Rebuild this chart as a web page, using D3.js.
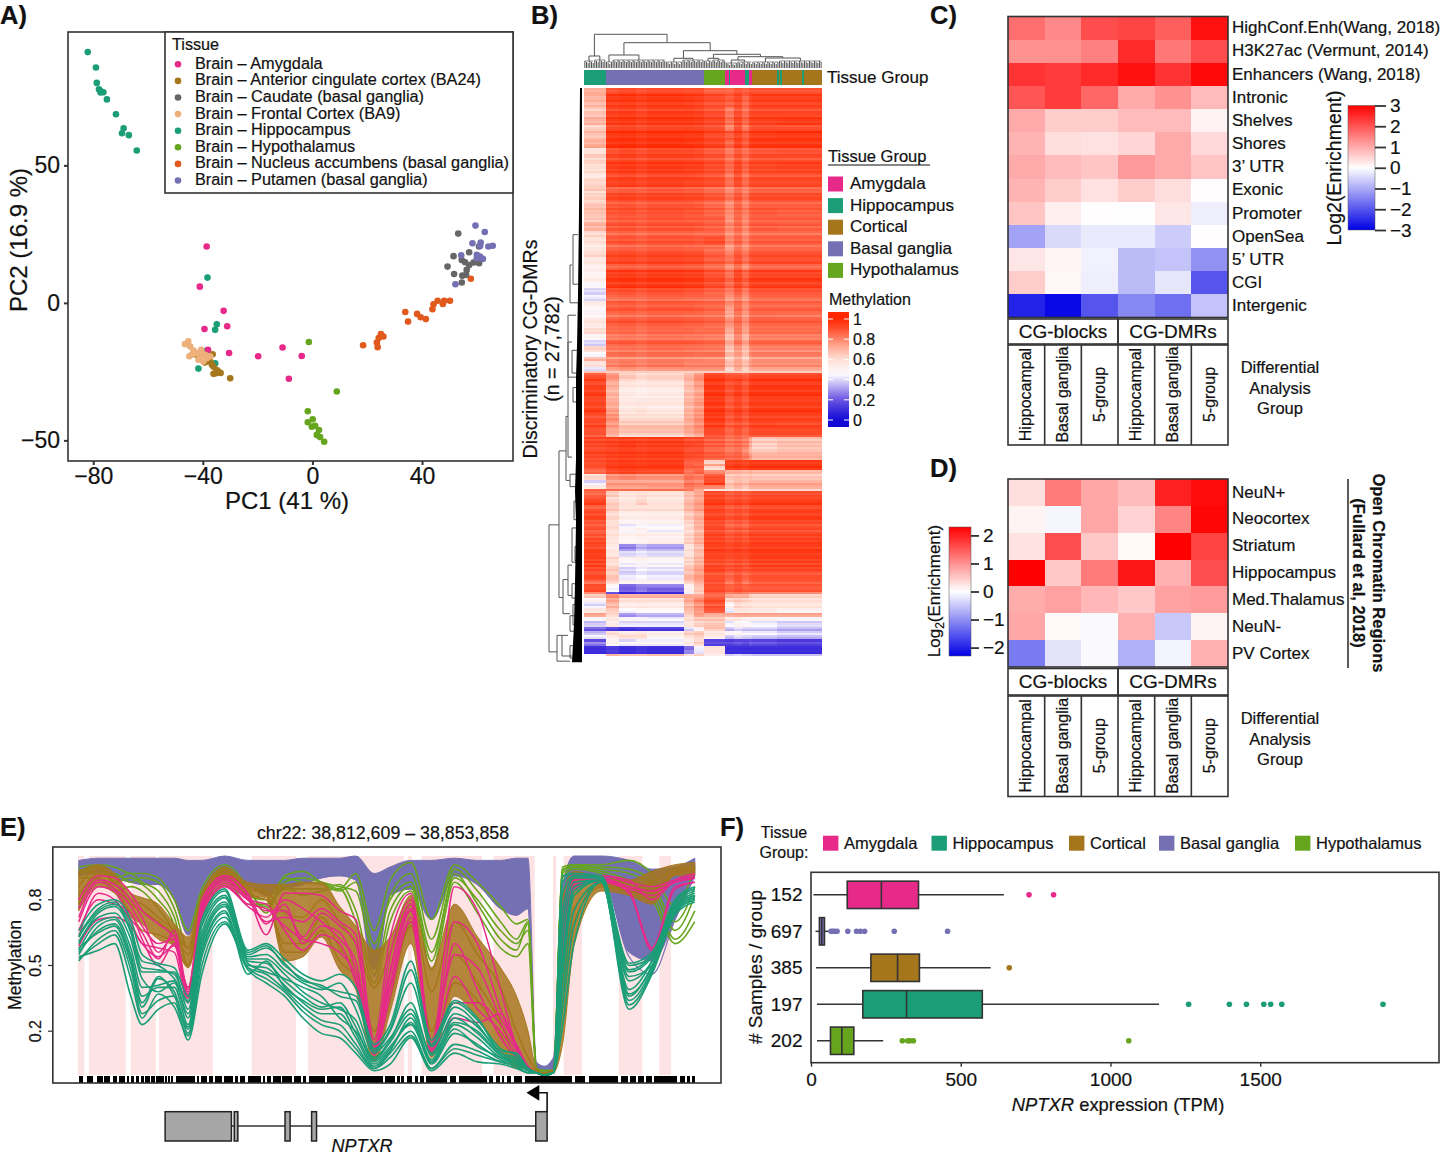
<!DOCTYPE html>
<html>
<head>
<meta charset="utf-8">
<script src="https://cdn.jsdelivr.net/npm/d3@7"></script>
<style>
	html, body { margin: 0; padding: 0; background: #fff; }
	svg { display: block; }
	text { font-family: "Liberation Sans", Arial, sans-serif; fill: #111; stroke: #111; stroke-width: 0.2; }
</style>
</head>
<body>
<script>
// ---- colours
var colAmy = "#E7298A", colHip = "#1B9E77", colCor = "#A6761D", colBas = "#7570B3", colHyp = "#66A61E";

// ---- panel A: PCA
var pcaNames = ["Brain – Amygdala", "Brain – Anterior cingulate cortex (BA24)", "Brain – Caudate (basal ganglia)", "Brain – Frontal Cortex (BA9)", "Brain – Hippocampus", "Brain – Hypothalamus", "Brain – Nucleus accumbens (basal ganglia)", "Brain – Putamen (basal ganglia)"];
var pcaColors = [colAmy, colCor, "#666666", "#EDB07A", colHip, colHyp, "#E2591E", colBas];
var pcaAmygdala = [[-38.6,20.5],[-41.1,5.9],[-32.4,-2.9],[-31.1,-8.5],[-39.4,-9.5],[-38.1,-17.1],[-30.4,-18.2],[-19.8,-19.4],[-10.9,-16.2],[-3.9,-19.3],[-8.6,-27.6]];
var pcaBA24 = [[-30,-27.4],[-33.5,-25.5],[-34.3,-25],[-35.2,-25.6],[-36.1,-25.8],[-36.1,-23.2],[-37.3,-21.3],[-39.2,-21.7],[-36.4,-18.7],[-34.9,-24.4],[-36.7,-22.5],[-42.2,-18.9]];
var pcaCaudate = [[53.2,25.2],[51.5,17],[49.3,13.2],[51.7,10.5],[54.5,7.4],[54.7,9.9],[56.1,10.2],[56.3,12],[57.2,13.8],[54.5,15.6],[55.7,14.8],[57.2,18.4],[58.8,14.7],[60.8,14.4],[60.8,20.5]];
var pcaBA9 = [[-46.5,-15],[-45.3,-14],[-44.6,-15.9],[-43.4,-17.3],[-44.9,-19.4],[-42.2,-18.3],[-40.6,-17.1],[-41,-19.5],[-39.2,-18.9],[-41.6,-20.7],[-39.8,-21.3],[-38.6,-20.1],[-42.8,-18.1],[-40.4,-18.3],[-37.3,-19.5],[-44,-18.9]];
var pcaHippocampus = [[-82,91.2],[-79,85.6],[-78.7,80],[-77.5,77.2],[-77.3,76.5],[-76.3,76.6],[-77.9,77.7],[-75,74],[-71.7,68.6],[-68.9,63.5],[-69.5,61.7],[-67,61],[-64.1,55.4],[-38.3,9.2],[-34.9,-7.8],[-35.5,-9.8],[-41.6,-23.9],[-35.5,-22],[-38.5,-17.3]];
var pcaHypothalamus = [[-1.3,-14.2],[8.9,-32.2],[-1.7,-39.4],[0.1,-42.3],[-1.7,-43.4],[-0.2,-45],[1,-44.7],[2.4,-46.2],[1.6,-48],[2.8,-48.8],[4.3,-50.5]];
var pcaAccumbens = [[18.5,-15.4],[23.8,-16.1],[23.5,-14.4],[24.2,-12.8],[25,-11.3],[25.9,-12.2],[33.9,-3.3],[34.9,-6.8],[38.2,-4],[39.5,-5.2],[41.4,-5.9],[43.8,-2.3],[44.2,-0.5],[45.7,0.8],[47.6,-0.4],[48.1,0.8],[50.2,0.8],[57.8,8.8]];
var pcaPutamen = [[59.5,28.1],[62.9,25.8],[58.4,21.7],[61.4,21.9],[61.2,20.7],[64.2,20.5],[65.8,20.8],[54.3,17.3],[60,17.5],[61.2,16.8],[62.2,16],[52.2,6.8],[60,16.2]];

// ---- panel B: heatmap, columns in samples and rows in hundreds of DMRs
var heatColSizes = [13,8,10,7,22,6,6,13,5,5,4,2,15,27];
var annotGroups = ["Hip","Bas","Hyp","Amy","Hip","Amy","Hip","Amy","Cor","Hip","Cor","Hip","Cor","Hip","Cor"];
var annotSizes = [13,59,13,2,1,9,2,2,15,1,1,1,12,1,11];
var heatRowSizes = [3,6,5,4,3,4,4,3,4,5,3,4,2,5,3,4,3,4,3,4,2,4,3,3,4,3,2,3,3,3,3,3,4,3,3,3,3,2,2,3,2,1,
	3,4,5,4,4,3,3,3,2,
	3,3,2,3,2,1,2,2,3,2,2,1,
	3,4,3,3,3,2,2,3,3,3,3,2,3,3,3,2,2,2,1,2,2,3,2,2,2,3,2,2,2,1,2,2,2,1];
var heatRows = [
	[72,90,92,90,92,91,91,87,86,90,88,90,90,90],
	[70,95,96,94,96,95,94,91,88,92,86,92,94,94],
	[66,93,94,92,94,94,93,90,82,90,84,91,92,92],
	[70,95,96,94,96,96,95,92,84,92,86,93,94,95],
	[64,92,93,91,93,93,92,90,80,90,82,90,91,91],
	[67,96,97,95,97,96,96,92,88,93,88,94,95,96],
	[72,97,98,96,98,97,96,93,86,94,88,95,96,96],
	[58,90,92,90,92,92,91,88,82,88,84,88,89,90],
	[64,92,93,91,93,93,92,90,84,90,85,90,91,91],
	[60,94,95,93,95,94,94,91,85,92,86,92,92,93],
	[56,91,92,90,92,92,91,89,82,90,83,89,90,90],
	[62,93,94,92,94,93,93,91,84,91,85,91,92,92],
	[66,86,87,86,88,87,87,84,78,84,80,85,86,86],
	[62,91,92,90,92,91,91,88,82,88,82,89,90,90],
	[66,88,89,87,89,89,88,85,78,86,80,86,87,87],
	[68,90,91,89,91,90,90,87,80,87,82,88,89,88],
	[64,86,87,86,88,87,87,86,76,84,78,85,86,86],
	[70,89,90,88,90,90,89,87,80,86,80,87,88,87],
	[62,86,87,85,87,87,86,86,78,84,78,84,85,85],
	[58,88,89,87,89,89,88,90,80,86,80,86,87,87],
	[54,84,85,84,86,85,85,84,74,82,76,83,84,84],
	[60,90,91,89,91,90,90,86,80,87,82,88,89,89],
	[55,92,93,91,93,92,92,88,84,90,84,90,91,91],
	[52,87,88,87,89,88,88,85,78,85,78,85,86,86],
	[50,94,95,93,95,94,94,90,84,92,86,92,93,93],
	[52,96,97,95,97,96,96,92,86,93,88,94,95,95],
	[44,95,96,94,96,95,95,91,85,92,86,93,94,94],
	[40,90,91,89,91,90,90,87,82,88,82,89,90,90],
	[42,84,85,84,86,85,85,84,76,82,76,84,85,85],
	[52,86,87,85,87,87,86,85,78,84,78,84,85,85],
	[46,88,89,87,89,89,88,86,74,85,78,86,87,87],
	[50,84,85,84,86,85,85,84,74,83,76,84,85,84],
	[56,88,89,87,89,88,88,86,78,85,78,86,87,87],
	[60,84,85,83,85,85,84,84,72,82,74,83,84,84],
	[50,82,83,82,84,83,83,82,68,80,70,81,82,82],
	[38,86,87,85,87,87,86,85,72,82,74,84,85,85],
	[62,82,83,82,84,83,83,82,66,76,68,78,80,80],
	[44,84,85,83,85,85,84,84,70,76,68,80,82,82],
	[70,78,79,78,80,79,79,78,64,72,64,74,76,76],
	[58,80,82,80,82,80,80,80,68,74,68,76,78,78],
	[42,76,78,76,78,78,78,78,62,72,64,72,74,74],
	[64,62,62,62,62,62,62,62,62,62,62,62,62,62],
	[90,78,66,62,64,70,78,94,90,90,88,92,93,93],
	[92,72,58,56,58,68,76,95,90,92,88,94,95,95],
	[94,70,54,52,54,68,74,96,90,94,90,96,96,96],
	[92,72,55,56,56,70,76,95,88,92,88,94,94,94],
	[94,74,56,58,55,70,76,96,90,94,90,95,96,96],
	[90,78,60,60,60,72,78,95,88,92,88,93,93,93],
	[92,76,66,66,66,72,78,94,88,90,88,92,93,92],
	[90,74,68,68,68,74,78,92,86,90,86,91,92,92],
	[88,70,62,62,62,68,72,90,85,88,85,90,90,90],
	[93,94,95,94,95,92,92,88,84,86,82,74,66,68],
	[90,92,94,92,93,91,90,86,82,84,80,70,62,66],
	[94,95,96,95,96,92,92,88,84,86,80,72,68,70],
	[91,93,94,93,94,91,90,87,85,86,82,76,70,70],
	[92,95,96,95,96,88,88,64,94,95,93,96,96,96],
	[90,93,94,93,94,86,84,74,92,94,92,95,95,95],
	[88,94,95,94,95,86,86,60,93,95,93,96,96,96],
	[84,90,92,90,90,82,86,78,70,70,68,70,68,68],
	[62,78,80,78,78,84,82,90,66,68,66,68,66,66],
	[42,76,76,76,76,84,82,95,68,72,70,74,74,74],
	[55,74,74,74,76,82,80,80,66,70,66,72,72,72],
	[84,82,82,82,82,80,70,56,56,58,56,58,58,58],
	[86,65,58,60,58,68,74,92,88,90,88,90,91,91],
	[92,62,56,62,56,68,74,94,90,92,90,93,94,94],
	[88,66,60,60,60,70,76,92,88,90,88,91,92,92],
	[93,62,54,54,54,66,72,93,90,92,90,94,95,95],
	[90,60,50,50,52,64,72,92,88,90,88,92,93,93],
	[87,60,42,45,44,60,70,90,84,86,84,88,89,89],
	[90,60,48,52,46,62,70,92,88,90,88,92,92,92],
	[88,58,50,52,50,62,70,92,88,90,88,92,92,92],
	[92,56,48,50,52,64,72,93,90,92,90,93,94,94],
	[92,54,28,35,32,58,68,94,92,94,92,95,95,95],
	[94,56,40,42,40,58,68,93,92,93,92,94,95,95],
	[93,62,50,52,50,62,70,92,90,92,90,93,94,94],
	[94,60,46,48,46,64,72,92,90,92,90,93,94,94],
	[90,64,38,42,40,66,74,92,88,90,88,90,91,91],
	[92,66,42,44,42,70,76,90,86,90,86,89,90,90],
	[84,62,50,50,50,64,72,90,82,88,82,86,88,88],
	[92,48,24,28,28,52,68,92,88,90,88,90,90,90],
	[90,42,20,24,20,50,64,90,86,88,86,87,87,87],
	[80,20,8,10,10,44,64,88,82,84,82,80,80,80],
	[64,78,70,70,70,72,72,84,72,70,70,64,62,62],
	[50,74,60,60,60,74,82,92,64,66,64,62,60,60],
	[42,70,54,56,54,70,78,90,50,62,60,60,58,58],
	[55,64,44,46,46,68,76,88,42,56,56,54,54,50],
	[72,60,28,32,32,62,74,70,70,72,72,72,72,72],
	[46,56,46,46,44,60,66,66,54,56,50,52,50,46],
	[38,55,42,42,42,58,64,66,44,50,48,46,44,40],
	[20,14,10,12,12,38,48,64,34,38,36,36,36,32],
	[36,60,54,56,52,64,66,56,46,48,44,44,44,40],
	[44,55,62,62,50,60,64,54,38,42,40,40,38,36],
	[16,48,38,42,42,50,60,14,12,14,14,16,14,12],
	[26,50,44,44,44,54,62,16,16,18,16,20,18,16],
	[10,14,10,12,10,24,44,58,10,10,10,10,10,10],
	[8,12,8,10,8,26,40,56,8,8,8,8,8,8],
	[50,74,70,70,72,62,68,56,42,44,42,42,40,40],
	[38,66,66,62,64,58,62,44,34,36,34,36,34,34]
];
// fine horizontal banding read by eye, in percent, one entry per hundred DMRs (repeats over the rows)
var rowBanding = [0,-2,1,3,-1,0,2,-3,1,0,-4,2,1,-1,3,0,-2,2,-3,0,1,4,-1,-2,2,0,-3,1,3,-2,0,-1,2,1,-4,0,3,-1,1,-2,2,0,-3,3,1,-1,0,2,-2,1,-4,2,0,3,-1,-3,1,0,2,-2];
var bLegendNames = ["Amygdala", "Hippocampus", "Cortical", "Basal ganglia", "Hypothalamus"];
var bLegendCodes = ["Amy", "Hip", "Cor", "Bas", "Hyp"];
var methTicks = [0, 0.2, 0.4, 0.6, 0.8, 1];

// sample tree above the heatmap: h = merge height, n = samples in a leaf cluster
var colTree = {h: 33.7, children: [
	{h: 12, children: [{h: 7, n: 6}, {h: 8, n: 7}]},
	{h: 25.3, children: [
		{h: 13, children: [{h: 6, n: 4}, {h: 8, n: 32}]},
		{h: 17.3, children: [
			{h: 9.7, children: [{h: 6, n: 10}, {h: 8, n: 13}]},
			{h: 13.7, children: [
				{h: 9.7, children: [{h: 7, n: 5}, {h: 8, n: 8}]},
				{h: 11.3, children: [
					{h: 8, children: [{h: 5, n: 7}, {h: 6, n: 9}]},
					{h: 10, children: [{h: 6, n: 16}, {h: 7, n: 26}]}
				]}
			]}
		]}
	]}
]};
// DMR tree at the left: [merge height, rank top, rank bottom, child height top, child height bottom]
var rowBrackets = [
	[33,211.5,273,23,25],[23,175.7,246.7,16,19],[16,159,190,14,12],[14,123,178.7,10,10],
	[19,238,254.5,14,12],[14,231,245.7,10,10],[10,213,229.6,6,6],[25,265,277.5,20,12],
	[20,265,275,14,10],[12,85.7,104,10,4],[9,71,95,4,4],[14,110,140,6,6],[10,127,138,4,4],
	[12,187,193,5,5],[12,255.5,263,6,6],[9,250,260,5,5],[12,270,276,6,6],[8,200,209,5,5],
	[9,145,152,5,5],[7,222,229,5,5],[10,240,247,6,5]
];
var combRanks = [0, 60, 100, 125, 140, 180, 195, 210, 240, 260, 278];
var combWidths = [2, 3, 4, 5, 6, 6, 7, 6, 7, 8, 10];

// ---- panel C
var cRows = ["HighConf.Enh(Wang, 2018)", "H3K27ac (Vermunt, 2014)", "Enhancers (Wang, 2018)", "Intronic", "Shelves", "Shores", "3’ UTR", "Exonic", "Promoter", "OpenSea", "5’ UTR", "CGI", "Intergenic"];
var cValues = [
	[1.7,1.4,2.1,2.2,1.9,2.8],
	[1.3,1.3,1.5,2.5,1.6,2.1],
	[2.4,2.3,2.5,2.8,2.4,2.9],
	[2.0,2.3,1.8,1.0,1.3,0.8],
	[1.0,0.6,0.6,0.8,0.8,0.15],
	[0.9,0.4,0.35,0.5,1.0,0.45],
	[1.0,0.8,0.7,1.2,1.0,0.7],
	[0.9,0.6,0.35,0.6,0.4,0.02],
	[0.7,0.2,0.02,0.01,0.3,-0.2],
	[-1.1,-0.45,-0.25,-0.25,-0.6,0.02],
	[0.3,0.12,-0.15,-0.8,-0.7,-1.3],
	[0.6,0.1,-0.2,-0.8,-0.3,-2.0],
	[-2.6,-2.9,-2.0,-1.4,-1.7,-0.7]
];
var analysisGroups = ["CG-blocks", "CG-DMRs"];
var analysisCols = ["Hippocampal", "Basal ganglia", "5-group"];

// ---- panel D
var dRows = ["NeuN+", "Neocortex", "Striatum", "Hippocampus", "Med.Thalamus", "NeuN-", "PV Cortex"];
var dValues = [
	[0.3,1.2,0.8,0.6,2.0,2.2],
	[0.1,-0.08,0.8,0.4,1.1,2.25],
	[0.25,1.6,0.5,0.05,2.3,1.7],
	[2.3,0.5,1.2,2.1,0.7,1.6],
	[0.75,0.85,0.65,0.5,0.85,0.9],
	[0.8,0.05,-0.05,0.7,-0.5,0.1],
	[-1.2,-0.25,-0.05,-0.7,-0.1,0.7]
];

// ---- panel E: methylation in percent at eKnots (kb from region start)
var eKnots = [0,1.32,2.40,3.48,4.24,5.32,6.40,7.32,8.24,9.78,11.32,12.55,13.78,15.01,16.24,17.47,18.55,19.78,20.85,22.24,23.62,25.16,26.70,28.24,29.31,30.08,30.64,31.16,31.78,32.39,33.16,35.0,36.85,38.39,39.93,41.25];
var basalTop = [98,99,99,99,99,99,99,98,98,100,98,98,
	98,99,99,99,100,92,95,98,98,99,98,98,
	99,99,6,4,8,86,100,100,98,94,95,99];
var basalBottom = [91,92,90,88,87,87,80,64,81,89,87,82,
	85,87,90,91,89,48,82,85,71,91,87,76,
	73,76,2,1,2,40,87,91,56,52,71,91];
var basalLow = [91,92,90,88,87,87,80,64,81,89,87,82,
	85,87,90,91,89,45,82,85,71,91,87,76,
	73,76,2,1,2,40,87,91,54,46,71,91];
var corticalTop = [93,96,92,83,81,78,69,63,83,95,88,87,
	87,88,88,77,68,57,63,82,49,78,63,49,
	36,20,3,1,3,82,93,90,89,93,96,97];
var corticalBottom = [75,86,83,72,69,62,59,49,72,86,82,81,
	52,54,63,48,39,6,29,60,8,36,26,11,
	3,3,1,0,1,14,59,84,82,78,91,91];
var corticalLines = [
	[82,92,88,78,75,70,64,55,80,93,86,84,74,72,80,70,60,40,56,78,38,70,55,40,20,8,2,0,2,62,88,88,85,88,94,95],
	[78,90,85,74,66,64,60,50,74,89,82,80,60,60,72,58,48,20,40,68,20,55,42,24,8,4,1,0,1,30,70,86,84,80,92,93],
	[86,94,90,80,78,72,66,58,78,92,85,83,56,56,66,52,44,12,34,70,12,42,34,18,6,3,1,0,1,40,76,87,86,84,93,94]
];
var hypoLines = [
	[95,96,95,92,92,90,80,66,85,96,86,74,91,93,88,85,92,66,89,97,71,96,88,77,69,71,3,2,2,95,96,96,98,92,77,95],
	[92,94,88,90,87,80,68,36,77,95,80,77,85,85,85,87,75,46,75,86,52,92,78,62,57,69,2,1,1,92,95,93,89,83,62,75],
	[93,95,90,92,88,84,72,50,80,94,84,76,88,90,88,86,84,56,82,92,62,94,84,70,62,70,3,2,2,94,95,95,94,88,70,86],
	[94,92,92,88,90,88,76,58,83,92,82,80,90,88,87,84,88,60,80,88,56,90,80,66,60,66,3,1,2,93,96,94,92,86,66,82],
	[90,90,84,86,84,76,64,40,74,90,78,78,86,82,84,85,70,42,70,84,48,88,74,58,54,60,2,1,1,90,94,92,86,80,60,70]
];
var amyLines = [
	[80,91,90,83,75,69,62,40,78,91,82,64,83,83,82,75,71,16,63,83,14,86,75,39,13,3,1,0,1,75,92,91,89,80,89,92],
	[59,71,72,68,60,54,59,36,77,88,80,78,66,57,64,60,42,10,36,72,11,60,39,17,8,3,1,0,1,52,86,89,83,57,85,88],
	[72,88,85,77,68,60,62,37,75,90,81,75,75,63,74,68,60,13,48,78,14,33,33,23,11,3,1,0,1,63,89,90,86,84,88,90],
	[63,83,80,71,65,53,66,39,80,91,83,69,78,60,68,65,48,14,42,75,16,55,49,26,14,4,1,0,1,57,88,88,85,82,88,90],
	[76,89,87,80,72,56,64,38,76,89,80,70,72,70,76,70,64,12,55,80,13,70,60,30,12,3,1,0,1,70,91,91,88,86,89,91],
	[66,80,78,74,62,50,60,35,74,87,78,76,68,62,60,56,45,9,40,70,10,45,30,20,9,3,1,0,1,48,85,89,84,58,86,88],
	[70,86,84,70,60,58,56,33,72,86,77,72,80,76,70,62,52,11,46,76,12,26,24,28,13,3,1,0,1,58,87,90,86,84,88,90]
];
var hipLines = [
	[66,78,80,71,55,51,49,36,71,85,57,60,53,46,43,46,40,14,23,52,16,34,26,11,10,3,1,0,1,91,92,91,51,56,80,86],
	[60,74,77,65,47,47,47,30,65,81,54,55,48,42,39,42,30,10,17,30,10,28,22,10,7,3,1,0,1,75,91,90,47,54,78,84],
	[55,68,71,55,36,40,40,23,59,77,52,51,43,36,31,33,22,6,13,23,6,23,17,8,6,2,1,0,1,52,86,89,39,52,76,82],
	[52,62,66,48,28,34,36,19,54,72,49,46,39,31,25,23,14,3,10,20,3,14,11,6,4,1,1,0,1,37,75,88,34,48,74,80],
	[54,57,60,36,23,30,33,16,46,69,48,42,36,26,19,17,10,2,5,17,2,10,6,5,3,1,1,0,1,22,60,88,30,46,73,79],
	[63,75,78,68,49,48,46,33,68,82,55,58,51,43,41,36,34,11,20,42,13,31,23,10,8,3,1,0,1,83,91,90,48,55,79,85],
	[58,65,68,51,31,44,38,21,56,74,50,49,41,33,28,28,17,4,11,26,5,19,14,7,5,2,1,0,1,45,82,89,36,50,75,81],
	[64,76,79,66,52,50,44,34,69,84,56,59,50,44,40,38,36,12,21,48,14,33,25,12,9,3,1,0,1,88,92,90,50,54,79,85],
	[57,70,72,58,40,41,43,26,61,78,53,53,46,38,33,30,25,7,15,28,7,26,19,9,6,2,1,0,1,60,88,89,43,52,77,83],
	[53,60,64,44,26,37,31,18,50,70,49,44,38,29,23,20,12,3,8,18,3,12,9,6,4,1,1,0,1,30,68,88,32,47,74,80],
	[61,72,74,62,44,38,42,28,63,79,51,47,44,40,36,26,20,8,16,33,9,24,20,9,6,2,1,0,1,68,90,90,45,50,77,82],
	[56,66,69,53,33,45,36,22,57,75,46,52,40,34,30,31,19,5,12,24,6,21,13,8,5,2,1,0,1,48,84,89,37,49,75,81]
];
var dmrRegions = [[-0.06,0.37],[0.68,3.14],[3.47,5.16],[5.37,8.97],[11.57,14.55],[15.34,21.79],[22.03,22.31],[22.96,27.0],[27.77,30.53],[31.75,31.98],[32.47,33.69],[36.15,37.74],[38.88,39.65]];
var cpgRuns = [[0,0.26],[0.53,0.66],[0.70,0.97],[1.20,1.60],[1.69,2.09],[2.27,2.58],[2.71,3.09],[3.20,3.38],[3.47,3.70],[3.83,4.05],[4.19,4.37],[4.45,4.77],[4.86,5.08],[5.17,5.70],[5.79,5.88],[5.97,6.11],[6.17,6.33],[6.51,7.78],[7.89,8.07],[8.16,8.61],[8.70,9.01],[9.14,9.59],[9.72,10.30],[10.44,10.68],[10.79,11.13],[11.35,12.18],[12.36,12.49],[12.62,12.89],[13.03,13.52],[13.61,14.25],[14.41,14.86],[15.04,15.21],[15.39,16.49],[16.64,17.83],[17.98,18.16],[18.27,20.39],[20.51,21.18],[21.31,21.49],[21.58,21.80],[21.98,22.34],[22.52,22.74],[22.85,23.10],[23.23,24.64],[24.86,25.24],[25.47,27.32],[27.47,27.76],[27.92,28.21],[28.32,28.50],[28.66,28.95],[29.17,29.71],[29.88,33.01],[33.23,33.90],[34.17,36.13],[36.31,36.80],[36.92,37.30],[37.43,37.88],[37.97,38.37],[38.50,40.04],[40.27,40.60],[40.71,40.93],[41.05,41.25]];
var geneExons = [[5.78,10.22],[10.41,10.65],[13.81,14.15],[15.59,15.92],[30.6,31.36]];
var eTicks = [0.2, 0.5, 0.8];

// ---- panel F: five number summary per group, outliers apart
var fCounts = ["152", "697", "385", "197", "202"];
var fColors = [colAmy, colBas, colCor, colHip, colHyp];
var fLow = [8, 15, 17, 20, 20];
var fQ1 = [121, 28, 200, 173, 65];
var fMedian = [235, 36, 289, 319, 103];
var fQ3 = [359, 45, 362, 572, 143];
var fHigh = [644, 67, 600, 1162, 241];
var fOutliers = [
	[728, 810],
	[67, 73, 79, 87, 123, 152, 165, 179, 278, 456],
	[662],
	[1261, 1397, 1454, 1512, 1535, 1572, 1910],
	[305, 323, 331, 342, 1061]
];
var fTicks = [0, 500, 1000, 1500];

var svg = d3.select("body").append("svg").attr("width", 1440).attr("height", 1156);
var ink = "#333";

function label(parent, x, y, txt, size, opts) {
	opts = opts || {};
	var t = parent.append("text").attr("x", x).attr("y", y).attr("font-size", size).text(txt);
	if (opts.anchor) t.attr("text-anchor", opts.anchor);
	if (opts.weight) t.attr("font-weight", opts.weight);
	if (opts.style) t.attr("font-style", opts.style);
	if (opts.rotate) t.attr("transform", "rotate(" + opts.rotate + "," + x + "," + y + ")");
	return t;
}

function frame(x0, y0, x1, y1, w) {
	svg.append("rect").attr("x", x0).attr("y", y0).attr("width", x1 - x0).attr("height", y1 - y0).
	attr("fill", "none").attr("stroke", ink).attr("stroke-width", w || 1.6);
}

// panel letters
[["A)", 0, 24], ["B)", 531, 24], ["C)", 930, 24], ["D)", 930, 477], ["E)", 0, 836], ["F)", 720, 836]].forEach(function (d) {
	label(svg, d[1], d[2], d[0], 25.5, {weight: "bold"});
});

// ---------------- A
var ax = d3.scaleLinear().domain([-89.2, 73.2]).range([68, 513]);
var ay = d3.scaleLinear().domain([-57.5, 98.5]).range([461, 32]);
var pcaSets = [pcaAmygdala, pcaBA24, pcaCaudate, pcaBA9, pcaHippocampus, pcaHypothalamus, pcaAccumbens, pcaPutamen];
var pcaDrawOrder = [4, 0, 1, 3, 5, 6, 2, 7];
pcaDrawOrder.forEach(function (k) {
	svg.append("g").selectAll("circle").data(pcaSets[k]).enter().append("circle").
	attr("cx", function (d) {return ax(d[0]);}).
	attr("cy", function (d) {return ay(d[1]);}).
	attr("r", 3.3).
	attr("fill", pcaColors[k]);
});
frame(68, 32, 513, 461);
var axisA = svg.append("g").attr("transform", "translate(0,461)").call(d3.axisBottom(ax).tickValues([-80, -40, 0, 40]).tickSize(4).tickPadding(3));
var axisB = svg.append("g").attr("transform", "translate(68,0)").call(d3.axisLeft(ay).tickValues([-50, 0, 50]).tickSize(4).tickPadding(4));
[axisA, axisB].forEach(function (g) {
	g.select(".domain").remove();
	g.selectAll("line").attr("stroke", ink).attr("stroke-width", 2);
	g.selectAll("text").attr("font-size", 23);
});
label(svg, 287, 509, "PC1 (41 %)", 24, {anchor: "middle"});
label(svg, 27, 240, "PC2 (16.9 %)", 24, {anchor: "middle", rotate: -90});
svg.append("rect").attr("x", 165).attr("y", 32).attr("width", 348).attr("height", 161).attr("fill", "#fff").attr("stroke", ink).attr("stroke-width", 1.6);
label(svg, 172, 50, "Tissue", 16.2);
pcaNames.forEach(function (n, i) {
	var y = 63.3 + i * 16.6;
	svg.append("circle").attr("cx", 178).attr("cy", y + 1).attr("r", 3.3).attr("fill", pcaColors[i]);
	label(svg, 195, y + 5.5, n, 16.3);
});

// ---------------- B
var methColor = d3.scaleLinear().domain([0, 0.2, 0.45, 0.6, 0.75, 0.9, 1]).
range(["#1208d6", "#6a54e2", "#fdfbff", "#ffe0d6", "#ffa088", "#ff5030", "#ff2800"]);
var sampleTotal = d3.sum(heatColSizes);
var hx = d3.scaleLinear().domain([0, sampleTotal]).range([584, 822]);
var hy = d3.scaleLinear().domain([0, d3.sum(heatRowSizes)]).range([88, 656]);
var rowTop = d3.cumsum([0].concat(heatRowSizes));
var colLeft = d3.cumsum([0].concat(heatColSizes));
var heatG = svg.append("g").attr("shape-rendering", "crispEdges");
heatRows.forEach(function (row, r) {
	d3.range(heatRowSizes[r]).forEach(function (u) {
		var rank = rowTop[r] + u;
		var band = rowBanding[rank % rowBanding.length];
		heatG.append("g").selectAll("rect").data(row).enter().append("rect").
		attr("x", function (d, c) {return hx(colLeft[c]);}).
		attr("y", hy(rank)).
		attr("width", function (d, c) {return hx(colLeft[c + 1]) - hx(colLeft[c]);}).
		attr("height", hy(rank + 1) - hy(rank)).
		attr("fill", function (d) {return methColor(Math.min(100, d + band) / 100);});
	});
});

// annotation strip
var groupColor = {Amy: colAmy, Hip: colHip, Cor: colCor, Bas: colBas, Hyp: colHyp};
var annotLeft = d3.cumsum([0].concat(annotSizes));
svg.append("g").attr("shape-rendering", "crispEdges").selectAll("rect").data(annotGroups).enter().append("rect").
attr("x", function (d, i) {return hx(annotLeft[i]);}).
attr("y", 70).
attr("width", function (d, i) {return hx(annotLeft[i + 1]) - hx(annotLeft[i]);}).
attr("height", 15).
attr("fill", function (d) {return groupColor[d];});
label(svg, 827, 83, "Tissue Group", 17);

// sample tree
var th = d3.scaleLinear().domain([0, 34]).range([68, 34]);
var treeRoot = d3.hierarchy(colTree);
var leafCursor = 0;
var treeG = svg.append("g").attr("fill", "none").attr("stroke", "#555").attr("stroke-width", 1);
treeRoot.eachAfter(function (node) {
	if (!node.children) {
		var start = leafCursor;
		d3.range(node.data.n).forEach(function (i) {
			var sx = hx(start + i + 0.5);
			treeG.append("line").attr("x1", sx).attr("x2", sx).attr("y1", th(0)).attr("y2", th(node.data.h - (i % 3)));
		});
		treeG.append("line").attr("x1", hx(start + 0.5)).attr("x2", hx(start + node.data.n - 0.5)).attr("y1", th(node.data.h)).attr("y2", th(node.data.h)).attr("stroke-width", 0.7);
		leafCursor += node.data.n;
		node.xPos = hx(start + node.data.n / 2);
	} else {
		var a = node.children[0], b = node.children[1];
		node.xPos = (a.xPos + b.xPos) / 2;
		var h = th(node.data.h);
		treeG.append("path").attr("d", "M" + a.xPos + "," + th(a.data.h) + "V" + h + "H" + b.xPos + "V" + th(b.data.h));
	}
});

// DMR tree
var rh = d3.scaleLinear().domain([0, 34]).range([582, 548]);
var rowTreeG = svg.append("g").attr("fill", "none").attr("stroke", "#555").attr("stroke-width", 1);
rowBrackets.forEach(function (d) {
	rowTreeG.append("path").attr("d", "M" + rh(d[3]) + "," + hy(d[1]) + "H" + rh(d[0]) + "V" + hy(d[2]) + "H" + rh(d[4]));
});
var combArea = d3.area().y(function (d) {return hy(d);}).x0(rh(0)).
x1(function (d, i) {return rh(combWidths[i]);});
svg.append("path").datum(combRanks).attr("d", combArea).attr("fill", "#000");

label(svg, 537, 349, "Discriminatory CG-DMRs", 19.5, {anchor: "middle", rotate: -90});
label(svg, 559, 349, "(n = 27,782)", 19.5, {anchor: "middle", rotate: -90});

// tissue legend
label(svg, 828, 162, "Tissue Group", 16.5);
svg.append("line").attr("x1", 828).attr("x2", 930).attr("y1", 165).attr("y2", 165).attr("stroke", "#111").attr("stroke-width", 1.2);
bLegendNames.forEach(function (n, i) {
	svg.append("rect").attr("x", 828).attr("y", 176.5 + i * 21.6).attr("width", 15).attr("height", 15).attr("fill", groupColor[bLegendCodes[i]]);
	label(svg, 850, 189 + i * 21.6, n, 17);
});

// methylation bar
label(svg, 829, 305, "Methylation", 16);
var methY = d3.scaleLinear().domain([0, 1]).range([420, 319]);
var defs = svg.append("defs");
function vGradient(id, scale, lo, hi) {
	var g = defs.append("linearGradient").attr("id", id).attr("x1", 0).attr("x2", 0).attr("y1", 1).attr("y2", 0);
	d3.range(0, 1.001, 0.05).forEach(function (t) {
		var v = Math.max(scale.domain()[0], Math.min(scale.domain()[scale.domain().length - 1], lo + t * (hi - lo)));
		g.append("stop").attr("offset", t).attr("stop-color", scale(v));
	});
}
vGradient("gMeth", methColor, -0.07, 1.07);
svg.append("rect").attr("x", 828).attr("y", 312).attr("width", 21).attr("height", 115).attr("fill", "url(#gMeth)");
methTicks.forEach(function (v) {
	svg.append("line").attr("x1", 828).attr("x2", 833).attr("y1", methY(v)).attr("y2", methY(v)).attr("stroke", "#fff");
	svg.append("line").attr("x1", 844).attr("x2", 849).attr("y1", methY(v)).attr("y2", methY(v)).attr("stroke", "#fff");
	label(svg, 853, methY(v) + 6, String(v), 16);
});

// ---------------- C and D share the same layout
function enrichmentPanel(rows, values, top, bottom, colorMax, rowFont, boxTop, boxMid, boxBottom, textY) {
	var x = d3.scaleBand().domain(d3.range(6)).range([1008, 1228]);
	var y = d3.scaleBand().domain(rows).range([top, bottom]);
	var col = d3.scaleLinear().domain([-colorMax, 0, colorMax]).range(["#0000e6", "#ffffff", "#ff0000"]);
	var g = svg.append("g").attr("shape-rendering", "crispEdges");
	rows.forEach(function (name, r) {
		g.append("g").selectAll("rect").data(values[r]).enter().append("rect").
		attr("x", function (d, c) {return x(c);}).
		attr("y", y(name)).
		attr("width", x.bandwidth()).
		attr("height", y.bandwidth()).
		attr("fill", function (d) {return col(d);});
		label(svg, 1232, y(name) + y.bandwidth() / 2 + 5.2, name, rowFont);
	});
	frame(1008, top, 1228, bottom);
	// group boxes under the heatmap
	frame(1008, boxTop, 1118, boxMid);
	frame(1118, boxTop, 1228, boxMid);
	frame(1008, boxMid + 1, 1228, boxBottom);
	analysisGroups.forEach(function (n, i) {
		label(svg, 1063 + i * 110, boxTop + (boxMid - boxTop) / 2 + 6.5, n, 19, {anchor: "middle"});
	});
	d3.range(6).forEach(function (c) {
		if (c > 0) svg.append("line").attr("x1", x(c)).attr("x2", x(c)).attr("y1", boxMid + 1).attr("y2", boxBottom).attr("stroke", ink).attr("stroke-width", 1.6);
		var lx = x(c) + x.bandwidth() / 2 + 5;
		label(svg, lx, (boxMid + boxBottom) / 2, analysisCols[c % 3], 16, {anchor: "middle", rotate: -90});
	});
	["Differential", "Analysis", "Group"].forEach(function (n, i) {
		label(svg, 1280, textY + i * 20.5, n, 16.5, {anchor: "middle"});
	});
	return col;
}

function colorBar(id, col, x0, x1, scale, lo, hi, ticks, tickEnd, font) {
	vGradient(id, col, lo, hi);
	svg.append("rect").attr("x", x0).attr("y", scale(hi)).attr("width", x1 - x0).attr("height", scale(lo) - scale(hi)).attr("fill", "url(#" + id + ")").attr("stroke", "#555").attr("stroke-width", 0.5);
	var g = svg.append("g").attr("transform", "translate(" + x1 + ",0)").
	call(d3.axisRight(scale).tickValues(ticks).tickFormat(d3.format("d")).tickSize(tickEnd - x1).tickPadding(4));
	g.select(".domain").remove();
	g.selectAll("line").attr("stroke", ink).attr("stroke-width", 1.8);
	g.selectAll("text").attr("font-size", font);
}

var cCol = enrichmentPanel(cRows, cValues, 16.5, 317.5, 3, 17, 319, 344, 445, 373);
colorBar("gC", cCol, 1348, 1375, d3.scaleLinear().domain([-3, 3]).range([230, 105.5]), -3, 3, [-3, -2, -1, 0, 1, 2, 3], 1386, 19);
label(svg, 1341, 168, "Log2(Enrichment)", 19.5, {anchor: "middle", rotate: -90});

var dCol = enrichmentPanel(dRows, dValues, 479, 667, 2.3, 17, 668.5, 695, 796.5, 724);
colorBar("gD", dCol, 949, 971, d3.scaleLinear().domain([-2.3, 2.3]).range([656, 527]), -2.3, 2.3, [-2, -1, 0, 1, 2], 979, 19);
var logD = label(svg, 940, 591, "Log", 17, {anchor: "middle", rotate: -90});
logD.append("tspan").attr("font-size", 12).attr("dy", 4).text("2");
logD.append("tspan").attr("dy", -4).text("(Enrichment)");
svg.append("line").attr("x1", 1348).attr("x2", 1348).attr("y1", 479).attr("y2", 668).attr("stroke", ink).attr("stroke-width", 1.6);
label(svg, 1373, 573, "Open Chromatin Regions", 16.5, {anchor: "middle", rotate: 90, weight: "bold"});
label(svg, 1353, 573, "(Fullard et al, 2018)", 16.5, {anchor: "middle", rotate: 90, weight: "bold"});

// ---------------- E
var ex = d3.scaleLinear().domain([0, 41.25]).range([78.8, 694.8]);
var ey = d3.scaleLinear().domain([0, 1]).range([1075, 856]);
svg.append("g").selectAll("rect").data(dmrRegions).enter().append("rect").
attr("x", function (d) {return ex(d[0]);}).
attr("y", ey(1)).
attr("width", function (d) {return ex(d[1]) - ex(d[0]);}).
attr("height", ey(0) - ey(1)).
attr("fill", "#fde3e3");

var eLine = d3.line().x(function (d, i) {return ex(eKnots[i]);}).y(function (d) {return ey(d / 100);}).curve(d3.curveMonotoneX);
function eBand(top, bottom) {
	return d3.area().x(function (d, i) {return ex(eKnots[i]);}).
	y0(function (d, i) {return ey(bottom[i] / 100);}).
	y1(function (d, i) {return ey(top[i] / 100);}).
	curve(d3.curveMonotoneX)(eKnots);
}
function drawLines(rows, color, w) {
	svg.append("g").selectAll("path").data(rows).enter().append("path").
	attr("d", eLine).attr("fill", "none").attr("stroke", color).attr("stroke-width", w);
}
svg.append("path").attr("d", eBand(basalTop, basalBottom)).attr("fill", colBas).attr("stroke", colBas);
drawLines([basalLow], colBas, 1.2);
drawLines(hypoLines, colHyp, 1.6);
svg.append("path").attr("d", eBand(corticalTop, corticalBottom)).attr("fill", colCor).attr("fill-opacity", 0.85).attr("stroke", colCor);
drawLines(corticalLines, colCor, 1.5);
drawLines(amyLines, colAmy, 1.5);
drawLines(hipLines, colHip, 1.6);

svg.append("g").attr("shape-rendering", "crispEdges").selectAll("rect").data(cpgRuns).enter().append("rect").
attr("x", function (d) {return ex(d[0]);}).
attr("y", 1076).
attr("width", function (d) {return ex(d[1]) - ex(d[0]);}).
attr("height", 7).
attr("fill", "#000");
frame(52.8, 847, 721, 1083);
eTicks.forEach(function (t) {
	svg.append("line").attr("x1", 48).attr("x2", 52.8).attr("y1", ey(t)).attr("y2", ey(t)).attr("stroke", ink).attr("stroke-width", 1.2);
	label(svg, 41, ey(t), t.toFixed(1), 16, {anchor: "middle", rotate: -90});
});
label(svg, 21, 965, "Methylation", 17.6, {anchor: "middle", rotate: -90});
label(svg, 383, 839, "chr22: 38,812,609 – 38,853,858", 17.8, {anchor: "middle"});

// gene model
var geneY = 1126;
svg.append("line").attr("x1", ex(geneExons[0][0])).attr("x2", ex(geneExons[4][1])).attr("y1", geneY).attr("y2", geneY).attr("stroke", ink).attr("stroke-width", 1.6);
svg.append("g").selectAll("rect").data(geneExons).enter().append("rect").
attr("x", function (d) {return ex(d[0]);}).
attr("y", 1111.7).
attr("width", function (d) {return ex(d[1]) - ex(d[0]);}).
attr("height", 29.3).
attr("fill", "#a6a6a6").
attr("stroke", "#222").
attr("stroke-width", 1.5);
var tss = ex(geneExons[4][1]);
svg.append("path").attr("d", "M" + tss + ",1111.7V1092.7H535").attr("fill", "none").attr("stroke", "#111").attr("stroke-width", 1.6);
svg.append("path").attr("d", "M526.5,1092.7L539.3,1085V1100.7Z").attr("fill", "#000");
label(svg, 362, 1151.5, "NPTXR", 18, {anchor: "middle", style: "italic"});

// ---------------- F
var fx = d3.scaleLinear().domain([0, 2097]).range([811, 1439]);
var fy = d3.scaleBand().domain(fCounts).range([876.6, 1059]).paddingInner(0.25).paddingOuter(0.125);
fCounts.forEach(function (c, i) {
	var mid = fy(c) + fy.bandwidth() / 2;
	var g = svg.append("g");
	g.append("line").attr("x1", fx(fLow[i])).attr("x2", fx(fHigh[i])).attr("y1", mid).attr("y2", mid).attr("stroke", ink).attr("stroke-width", 1.5);
	g.append("rect").attr("x", fx(fQ1[i])).attr("y", fy(c)).attr("width", fx(fQ3[i]) - fx(fQ1[i])).attr("height", fy.bandwidth()).
	attr("fill", fColors[i]).attr("stroke", ink).attr("stroke-width", 1.6);
	g.append("line").attr("x1", fx(fMedian[i])).attr("x2", fx(fMedian[i])).attr("y1", fy(c)).attr("y2", fy(c) + fy.bandwidth()).attr("stroke", ink).attr("stroke-width", 1.6);
	g.selectAll("circle").data(fOutliers[i]).enter().append("circle").
	attr("cx", function (d) {return fx(d);}).
	attr("cy", mid).
	attr("r", 2.8).
	attr("fill", fColors[i]);
	label(svg, 802.5, mid + 6.5, c, 19, {anchor: "end"});
});
frame(811, 872.3, 1439, 1062.7);
var fAxis = svg.append("g").attr("transform", "translate(0,1062.7)").call(d3.axisBottom(fx).tickValues(fTicks).tickFormat(d3.format("d")).tickSize(4).tickPadding(6));
fAxis.select(".domain").remove();
fAxis.selectAll("line").attr("stroke", ink).attr("stroke-width", 1.4);
fAxis.selectAll("text").attr("font-size", 19);
label(svg, 762, 967, "# Samples / group", 19, {anchor: "middle", rotate: -90});
var fTitle = label(svg, 1118, 1111, "NPTXR", 18.4, {anchor: "middle", style: "italic"});
fTitle.append("tspan").attr("font-style", "normal").text(" expression (TPM)");
label(svg, 784, 838, "Tissue", 16, {anchor: "middle"});
label(svg, 784, 858, "Group:", 16, {anchor: "middle"});
var fLegendX = [823, 931.5, 1069, 1159, 1295];
bLegendNames.forEach(function (n, i) {
	svg.append("rect").attr("x", fLegendX[i]).attr("y", 835.7).attr("width", 15.4).attr("height", 15).attr("fill", groupColor[bLegendCodes[i]]);
	label(svg, fLegendX[i] + 21, 849, n, 16.5);
});
</script>
</body>
</html>
